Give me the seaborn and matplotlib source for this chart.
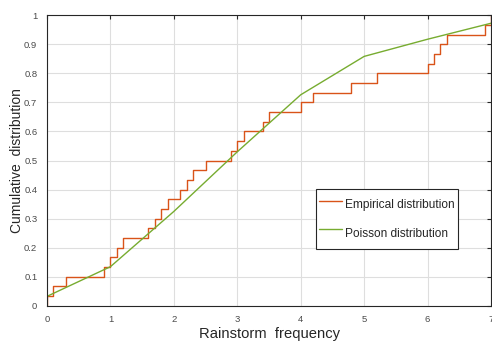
import matplotlib
matplotlib.use("Agg")
import matplotlib.pyplot as plt
import seaborn as sns

# Empirical CDF (step) data
emp_x = [0, 0, 0.1, 0.3, 0.9, 1.0, 1.1, 1.2, 1.6, 1.7, 1.8, 1.9, 2.1, 2.2, 2.3, 2.5,
         2.9, 3.0, 3.1, 3.4, 3.5, 4.0, 4.2, 4.8, 5.2, 6.0, 6.1, 6.2, 6.3, 6.9, 7.0]
emp_y = [0, 0.033, 0.067, 0.1, 0.133, 0.167, 0.2, 0.233, 0.267, 0.3, 0.333, 0.367,
         0.4, 0.433, 0.467, 0.5, 0.533, 0.567, 0.6, 0.633, 0.667, 0.7, 0.733, 0.767,
         0.8, 0.833, 0.867, 0.9, 0.933, 0.967, 1.0]

# Poisson distribution curve
poi_x = [0, 1, 2, 3, 4, 5, 6, 7]
poi_y = [0.033, 0.135, 0.325, 0.53, 0.726, 0.858, 0.917, 0.972]

x_ticks = [0, 1, 2, 3, 4, 5, 6, 7]
y_ticks = [0, 0.1, 0.2, 0.3, 0.4, 0.5, 0.6, 0.7, 0.8, 0.9, 1]
y_tick_labels = ["0", "0.1", "0.2", "0.3", "0.4", "0.5", "0.6", "0.7", "0.8", "0.9", "1"]

sns.set_style("white")
plt.rcParams['font.family'] = ['Liberation Sans', 'DejaVu Sans']

fig = plt.figure(figsize=(4.92, 3.43), dpi=100)
ax = fig.add_axes([0.0955, 0.108, 0.9025, 0.848])

sns.lineplot(x=emp_x, y=emp_y, estimator=None, sort=False, drawstyle='steps-post',
             color='#D95319', linewidth=1.0, label='Empirical distribution', ax=ax)
sns.lineplot(x=poi_x, y=poi_y, estimator=None, sort=False,
             color='#77AC30', linewidth=1.0, label='Poisson distribution', ax=ax)

ax.set_xlim(0, 7)
ax.set_ylim(0, 1)
ax.set_xticks(x_ticks)
ax.set_xticklabels([str(t) for t in x_ticks])
ax.set_yticks(y_ticks)
ax.set_yticklabels(y_tick_labels)
ax.grid(True, color='#dedede', linewidth=0.8)
ax.set_axisbelow(True)
ax.tick_params(direction='in', length=3, width=0.8, colors='#262626',
               labelsize=6.8, labelcolor='#4a4a4a', top=True, right=True)
ax.tick_params(axis='x', pad=6.5)
ax.tick_params(axis='y', pad=7)
for s in ax.spines.values():
    s.set_visible(True)
    s.set_color('#262626')
    s.set_linewidth(0.8)

ax.set_xlabel('Rainstorm  frequency', fontsize=10.6, color='#262626', labelpad=2)
ax.set_ylabel('Cumulative  distribution', fontsize=10, color='#262626')
ax.yaxis.set_label_coords(-0.052, 0.5)

leg = ax.legend(loc='upper left', bbox_to_anchor=(0.6055, 0.402), fontsize=8.6,
                frameon=True, fancybox=False, edgecolor='#262626', framealpha=1,
                handlelength=1.9, handletextpad=0.25, labelspacing=0.3,
                handleheight=2.8, borderpad=0.3, borderaxespad=0)
leg.get_frame().set_linewidth(0.8)

fig.savefig('out.png', dpi=100)
